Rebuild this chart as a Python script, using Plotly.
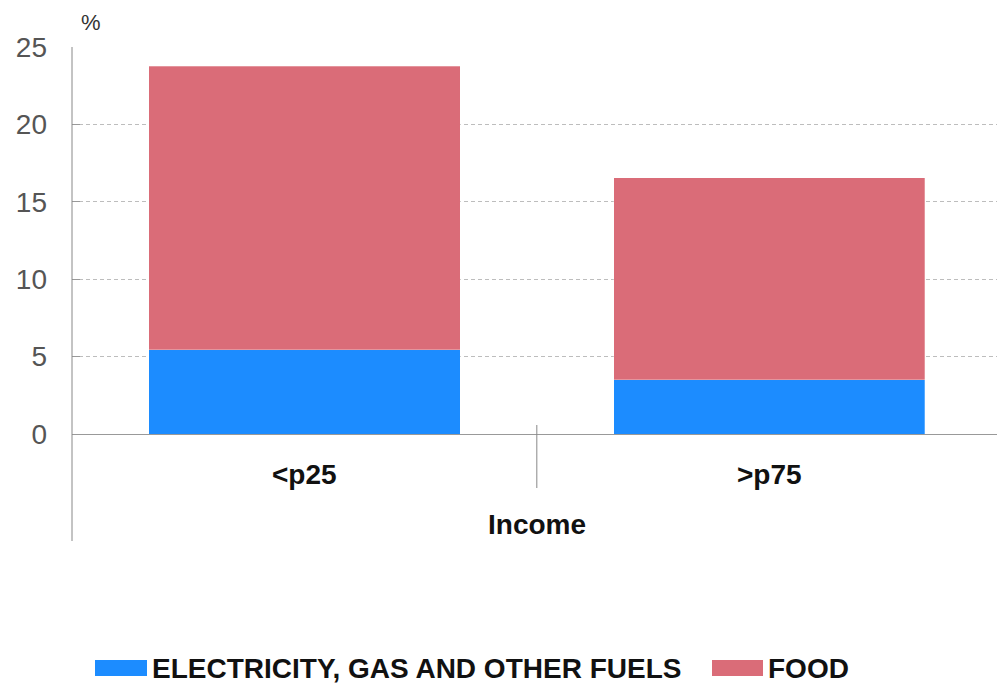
import plotly.graph_objects as go

# Share of household spending by income group
categories = ["<p25", ">p75"]
energy = [5.45, 3.5]
food = [18.3, 13.05]
series_names = ["ELECTRICITY, GAS AND OTHER FUELS", "FOOD"]
series_colors = ["#1C8CFF", "#DA6C78"]
y_ticks = [0, 5, 10, 15, 20, 25]

W, H = 997, 683
ML, MR, MT, MB = 72, 0, 47, 249
PW, PH = W - ML - MR, H - MT - MB


def px_x(px):
    return (px - ML) / PW


def px_y(py):
    return (H - py - MB) / PH


fig = go.Figure()
for name, vals, col in zip(series_names, [energy, food], series_colors):
    fig.add_trace(go.Bar(
        x=categories, y=vals, name=name, width=0.67,
        marker=dict(color=col, line=dict(width=0.8, color="rgba(255,255,255,0.35)")),
        showlegend=False,
    ))

fig.update_layout(
    barmode="stack",
    width=W, height=H,
    margin=dict(l=ML, r=MR, t=MT, b=MB),
    paper_bgcolor="white", plot_bgcolor="white",
    font=dict(family="Liberation Sans, Arial, sans-serif", color="#555555"),
    xaxis=dict(range=[-0.5, 1.49], showticklabels=False, showgrid=False,
               showline=False, zeroline=False, fixedrange=True),
    yaxis=dict(range=[0, 25], tickvals=y_ticks, showgrid=True,
               gridcolor="#BDBDBD", griddash="4px,3px", gridwidth=1,
               zeroline=True, zerolinecolor="#999999", zerolinewidth=1,
               showline=False, ticks="inside", ticklen=8, tickcolor="#999999",
               tickfont=dict(size=28, color="#555555"),
               ticklabelstandoff=24),
)

# left axis line running below the plot, and category divider
fig.add_shape(type="line", xref="paper", yref="paper", x0=0, x1=0,
              y0=1.0, y1=px_y(541), line=dict(color="#888888", width=1))
fig.add_shape(type="line", xref="x", yref="paper", x0=0.5, x1=0.5,
              y0=px_y(425), y1=px_y(488), line=dict(color="#888888", width=1))

# category labels and axis title
for c in categories:
    fig.add_annotation(x=c, xref="x", y=px_y(474), yref="paper",
                       xanchor="center", yanchor="middle",
                       text="<b>%s</b>" % c, showarrow=False,
                       font=dict(size=28, color="#111111"))
fig.add_annotation(x=0.5, xref="x", y=px_y(524), yref="paper",
                   xanchor="center", yanchor="middle",
                   text="<b>Income</b>", showarrow=False,
                   font=dict(size=28, color="#111111"))

# unit label
fig.add_annotation(x=px_x(91), xref="paper", y=px_y(23), yref="paper",
                   xanchor="center", yanchor="middle",
                   text="%", showarrow=False, font=dict(size=22, color="#333333"))

# legend drawn as swatches and labels
legend_items = [(95, 147, 150), (712, 763, 766)]
ly = px_y(668)
sw_half = 8 / PH
for (x0, x1, tx), name, col in zip(legend_items, series_names, series_colors):
    fig.add_shape(type="rect", xref="paper", yref="paper",
                  x0=px_x(x0), x1=px_x(x1),
                  y0=ly - sw_half, y1=ly + sw_half,
                  fillcolor=col, line=dict(width=0))
    fig.add_annotation(x=px_x(tx), xref="paper", y=ly, yref="paper",
                       xanchor="left", yanchor="middle",
                       text="<b>%s</b>" % name, showarrow=False,
                       font=dict(size=28, color="#111111"))

fig.write_html("out.html")
